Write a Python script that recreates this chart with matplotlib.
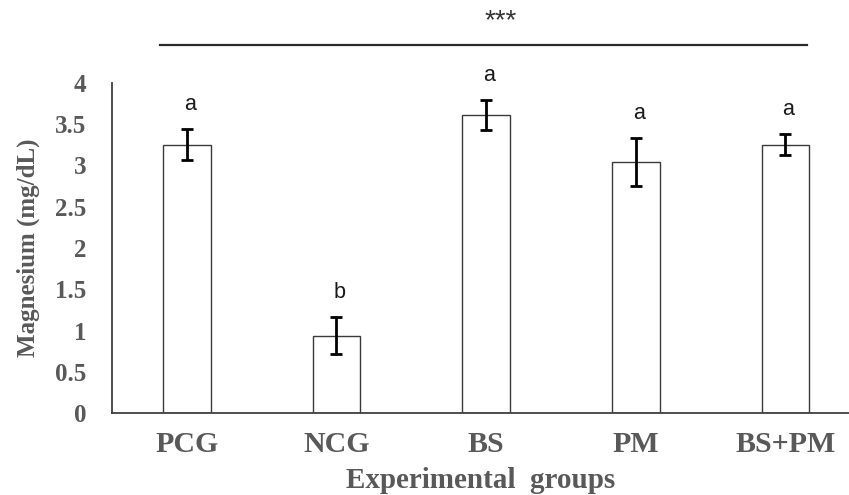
import matplotlib
matplotlib.use("Agg")
import matplotlib.pyplot as plt
from matplotlib.lines import Line2D

# Data
groups = ["PCG", "NCG", "BS", "PM", "BS+PM"]
means = [3.25, 0.94, 3.61, 3.04, 3.25]
errors = [0.19, 0.22, 0.18, 0.29, 0.13]
letters = ["a", "b", "a", "a", "a"]
yticks = [0, 0.5, 1, 1.5, 2, 2.5, 3, 3.5, 4]
ytick_labels = ["0", "0.5", "1", "1.5", "2", "2.5", "3", "3.5", "4"]

W, H = 849, 495
fig = plt.figure(figsize=(W / 100, H / 100), dpi=100)
ax = fig.add_axes([112 / W, (H - 413.3) / H, (W - 112) / W, (413.3 - 82.7) / H])

serif = ["Liberation Serif", "DejaVu Serif"]
sans = ["Liberation Sans", "DejaVu Sans"]
label_color = "#595959"

x = list(range(len(groups)))
ax.bar(x, means, width=0.318, color="white", edgecolor="#3a3a3a", linewidth=1.0, zorder=2)
ax.errorbar(x, means, yerr=errors, fmt="none", ecolor="black", elinewidth=2.0,
            capsize=4.2, capthick=2.0, zorder=3)

for xi, m, e, t in zip(x, means, errors, letters):
    ax.text(xi + 0.02, m + e + 0.3, t, ha="center", va="center", fontsize=15.5,
            family=sans, color="#1a1a1a", clip_on=False)

ax.set_xlim(-0.5, 4.425)
ax.set_ylim(0, 4)
ax.set_yticks(yticks)
ax.set_yticklabels(ytick_labels, family=serif, fontweight="bold", fontsize=18, color=label_color)
ax.set_xticks(x)
ax.set_xticklabels(groups, family=serif, fontweight="bold", fontsize=21.5, color=label_color)
ax.tick_params(axis="y", length=0, pad=18.5)
ax.tick_params(axis="x", length=0, pad=13)

for s in ["top", "right"]:
    ax.spines[s].set_visible(False)
for s in ["left", "bottom"]:
    ax.spines[s].set_color("#404040")
    ax.spines[s].set_linewidth(1.3)

ax.set_xlabel("Experimental  groups", family=serif, fontweight="bold", fontsize=21,
              color=label_color, labelpad=6.3)
ax.set_ylabel("Magnesium (mg/dL)", family=serif, fontweight="bold", fontsize=18,
              color=label_color)
ax.yaxis.set_label_coords((28 - 112) / (W - 112), 0.5)
ax.yaxis.label.set_verticalalignment("center")

# Significance line and stars
fig.add_artist(Line2D([160 / W, 806.7 / W], [1 - 45 / H, 1 - 45 / H],
                      color="#2a2a2a", linewidth=1.6, transform=fig.transFigure))
fig.text(501 / W, 1 - 21 / H, "***", ha="center", va="center", fontsize=20,
         family=sans, color="#333333")

fig.savefig("out.png", dpi=100)
